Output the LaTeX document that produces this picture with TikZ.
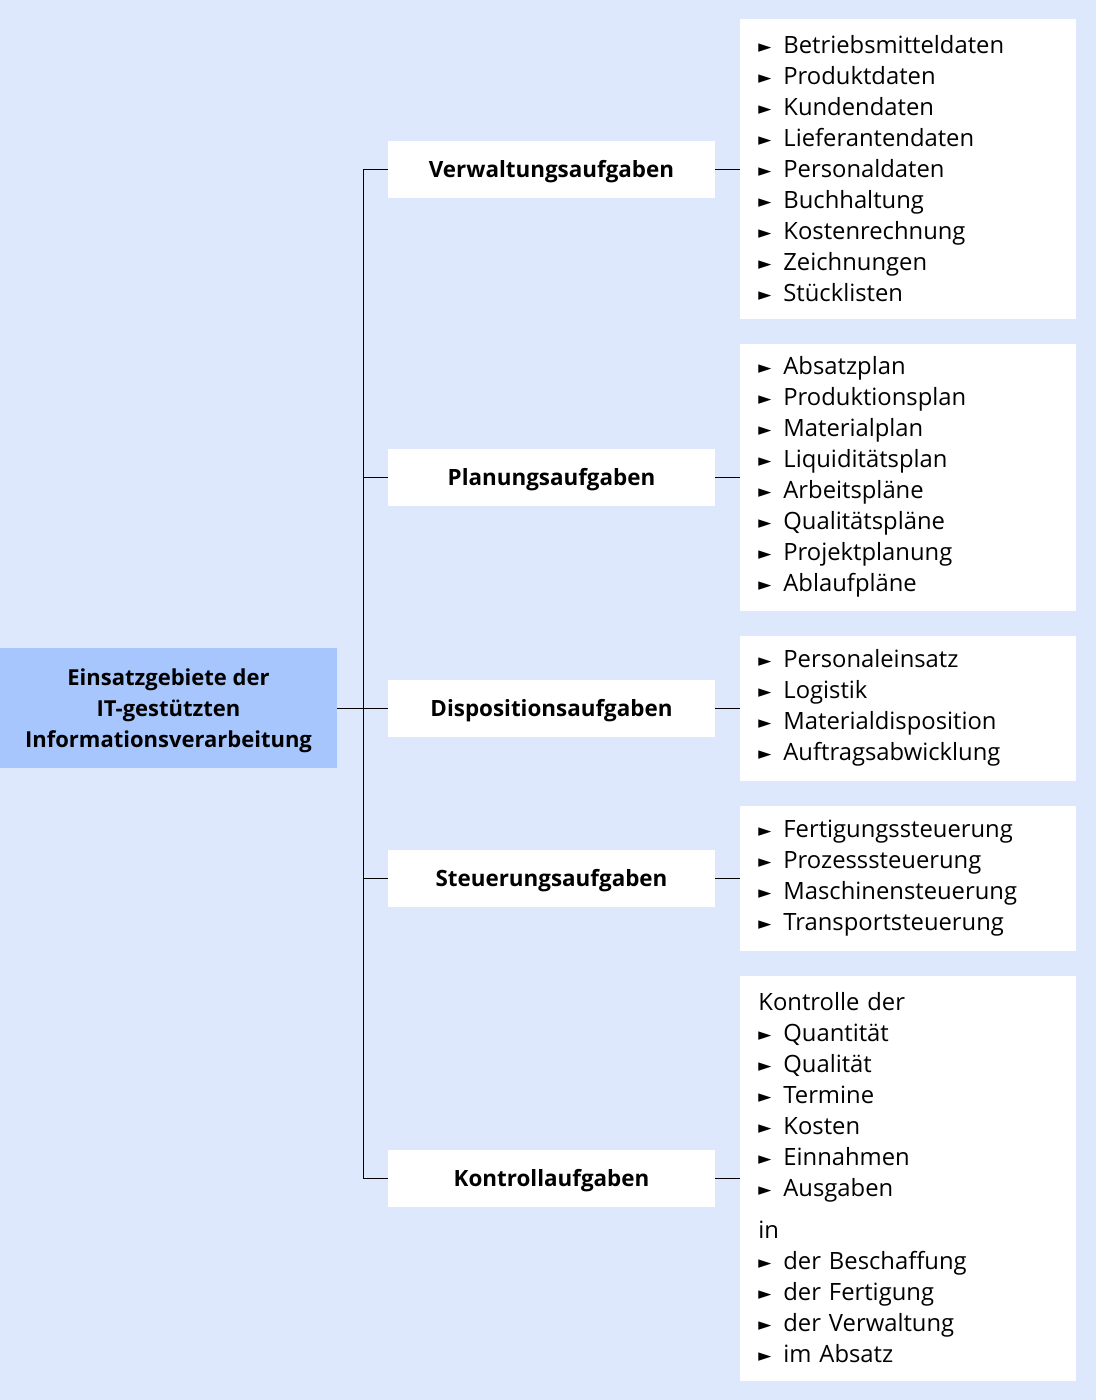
\documentclass[tikz,border=0pt]{standalone}
\usepackage{fontspec}
\setmainfont{Open Sans}
\newfontfamily\symfont{DejaVu Sans}
\usetikzlibrary{positioning}
\definecolor{lblue}{RGB}{221,232,253}
\definecolor{mblue}{RGB}{166,198,253}
\newcommand{\itm}[1]{\makebox[25pt][l]{\raisebox{1pt}{\symfont\fontsize{17}{17}\selectfont ►}}#1}

\begin{document}
\begin{tikzpicture}[x=1pt,y=-1pt,
    catbox/.style={fill=white,minimum width=327pt,minimum height=57pt,inner sep=0pt,
      text depth=0pt,font=\bfseries\fontsize{22.4}{31}\selectfont},
    listbox/.style={fill=white,minimum width=336pt,text width=300pt,inner xsep=18pt,
      inner ysep=0pt,align=left,font=\fontsize{23.8}{31}\selectfont},
    link/.style={line width=1pt}]
  \fill[lblue] (0,0) rectangle (1096,1400);
  \node[fill=mblue,minimum width=337pt,minimum height=120pt,align=center,text depth=0pt,
    font=\bfseries\fontsize{22}{31}\selectfont] (root) at (168.5,708)
    {Einsatzgebiete der\\IT-gestützten\\Informationsverarbeitung};
  % Aufgabenbereiche
  \node[catbox] (verw) at (551.5,169) {Verwaltungsaufgaben};
  \node[catbox] (plan) at (551.5,477) {Planungsaufgaben};
  \node[catbox] (disp) at (551.5,708) {Dispositionsaufgaben};
  \node[catbox] (steu) at (551.5,878) {Steuerungsaufgaben};
  \node[catbox] (kontr) at (551.5,1178) {Kontrollaufgaben};
  % Listen
  \node[listbox,minimum height=300pt,right=25pt of verw] (verw-l)
    {\itm{Betriebsmitteldaten}\\\itm{Produktdaten}\\\itm{Kundendaten}\\
     \itm{Lieferantendaten}\\\itm{Personaldaten}\\\itm{Buchhaltung}\\
     \itm{Kostenrechnung}\\\itm{Zeichnungen}\\\itm{Stücklisten}};
  \node[listbox,minimum height=267pt,right=25pt of plan] (plan-l)
    {\itm{Absatzplan}\\\itm{Produktionsplan}\\\itm{Materialplan}\\
     \itm{Liquiditätsplan}\\\itm{Arbeitspläne}\\\itm{Qualitätspläne}\\
     \itm{Projektplanung}\\\itm{Ablaufpläne}};
  \node[listbox,minimum height=145pt,right=25pt of disp] (disp-l)
    {\itm{Personaleinsatz}\\\itm{Logistik}\\\itm{Materialdisposition}\\
     \itm{Auftragsabwicklung}};
  \node[listbox,minimum height=145pt,right=25pt of steu] (steu-l)
    {\itm{Fertigungssteuerung}\\\itm{Prozesssteuerung}\\\itm{Maschinensteuerung}\\
     \itm{Transportsteuerung}};
  \node[listbox,minimum height=405pt,right=25pt of kontr] (kontr-l)
    {Kontrolle der\\\itm{Quantität}\\\itm{Qualität}\\\itm{Termine}\\\itm{Kosten}\\
     \itm{Einnahmen}\\\itm{Ausgaben}\\[11pt]
     in\\\itm{der Beschaffung}\\\itm{der Fertigung}\\\itm{der Verwaltung}\\
     \itm{im Absatz}};
  % Verbindungen
  \coordinate (jt) at (363,708);
  \draw[link] (root) -- (jt);
  \draw[link] (verw.west -| jt) -- (kontr.west -| jt);
  \foreach \c in {verw,plan,disp,steu,kontr}
    {\draw[link] (\c.west -| jt) -- (\c.west);
     \draw[link] (\c.east) -- (\c-l.west);}
\end{tikzpicture}
\end{document}
